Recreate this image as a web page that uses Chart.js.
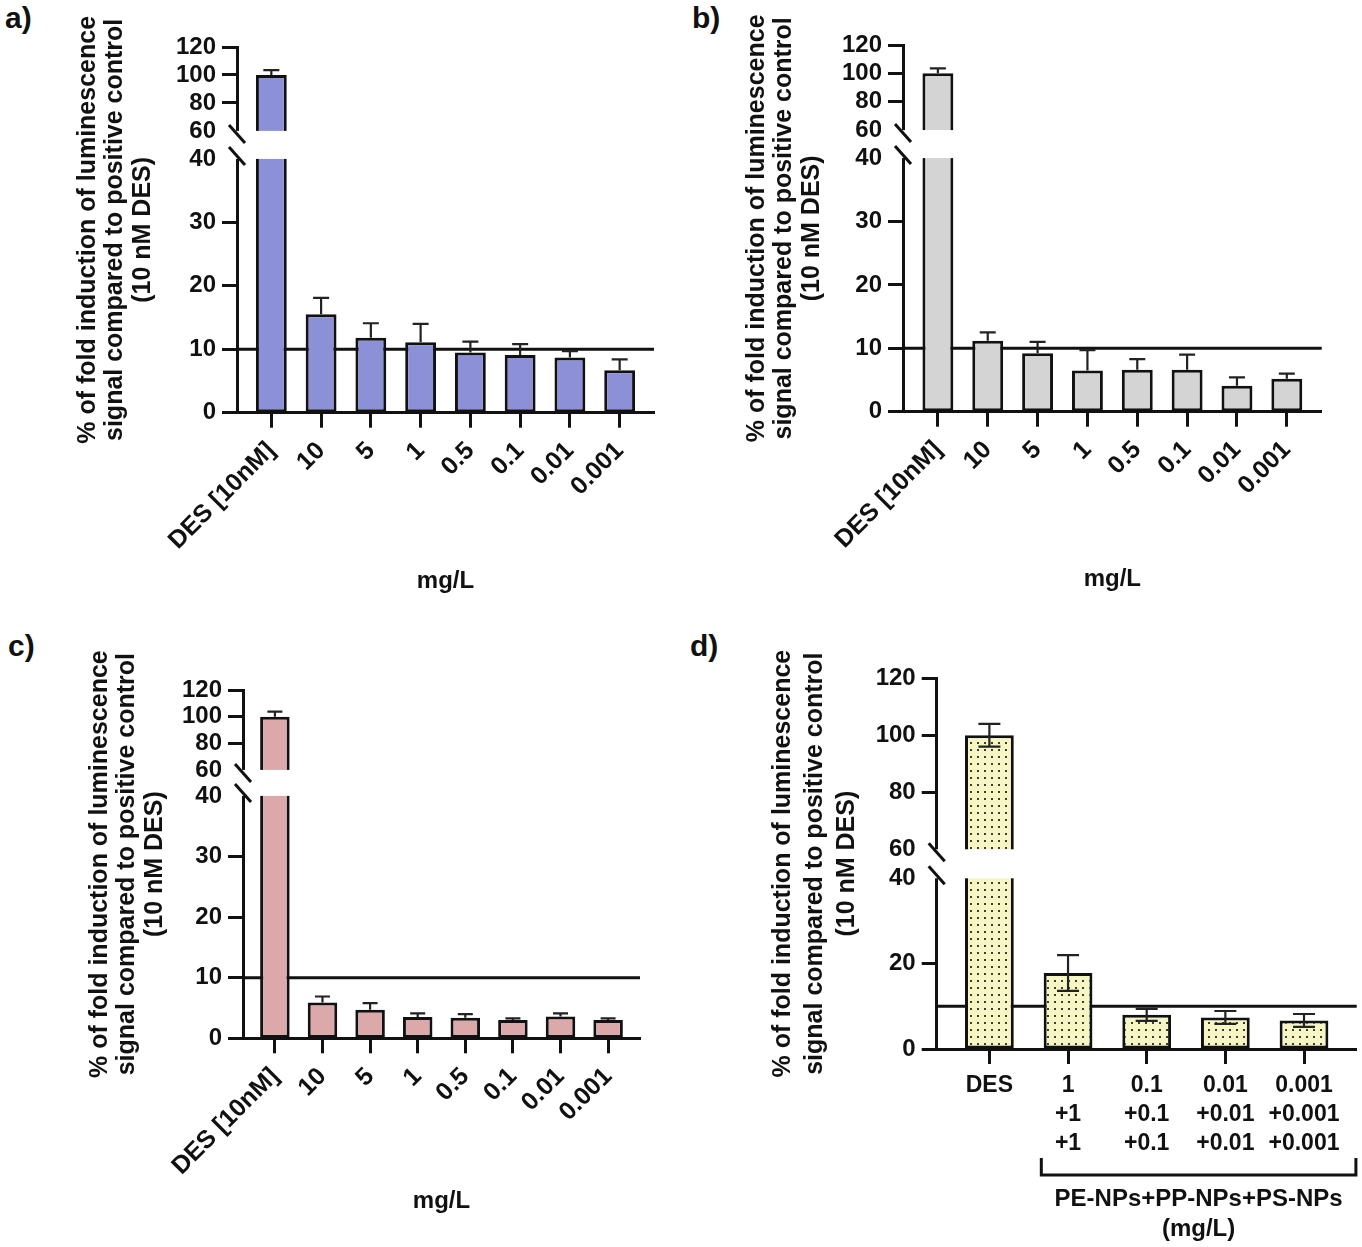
<!DOCTYPE html>
<html>
<head>
<meta charset="utf-8">
<script src="https://cdn.jsdelivr.net/npm/chart.js@4.4.1/dist/chart.umd.min.js"></script>
<style>
  body { margin: 0; background: #fff; }
  #fig { position: relative; width: 1362px; height: 1247px; overflow: hidden; }
  canvas { position: absolute; }
  .tag { position: absolute; font: bold 30px "Liberation Sans", Arial, sans-serif; line-height: 1; color: #111; }
</style>
</head>
<body>
<div id="fig">
  <div class="tag" style="left:5px;top:3px">a)</div>
  <div class="tag" style="left:692px;top:3px">b)</div>
  <div class="tag" style="left:8px;top:631px">c)</div>
  <div class="tag" style="left:690px;top:631px">d)</div>
  <canvas id="chartA" width="680" height="600" style="left:0;top:0"></canvas>
  <canvas id="chartB" width="682" height="600" style="left:680px;top:0"></canvas>
  <canvas id="chartC" width="680" height="627" style="left:0;top:620px"></canvas>
  <canvas id="chartD" width="682" height="627" style="left:680px;top:620px"></canvas>
</div>
<script>
// categorias e valores
const concLabels = ['DES [10nM]', '10', '5', '1', '0.5', '0.1', '0.01', '0.001'];
const mixLabels = [['DES'], ['1', '+1', '+1'], ['0.1', '+0.1', '+0.1'], ['0.01', '+0.01', '+0.01'], ['0.001', '+0.001', '+0.001']];
const brokenTicks = [0, 10, 20, 30, 40, 60, 80, 100, 120];
const brokenTicksD = [0, 20, 40, 60, 80, 100, 120];

const meanA = [100, 15.5, 11.8, 11.1, 9.5, 9.1, 8.7, 6.7];
const sdA = [3.5, 2.6, 2.3, 2.9, 1.7, 1.7, 1.0, 1.7];
const meanB = [100, 11.2, 9.2, 6.5, 6.6, 6.6, 4.1, 5.2];
const sdB = [3.5, 1.3, 1.8, 3.2, 1.7, 2.4, 1.3, 0.8];
const meanC = [100, 5.9, 4.7, 3.5, 3.4, 3.0, 3.6, 3.0];
const sdC = [3.7, 1.0, 1.1, 0.6, 0.6, 0.3, 0.5, 0.3];
const meanD = [100, 17.8, 8.0, 7.4, 6.7];
const sdD = [4.0, 4.2, 1.4, 1.5, 1.5];

const yTitle = ['% of fold induction of luminescence', 'signal compared to positive control', '(10 nM DES)'];
const xTitle = 'mg/L';
const mixTitle = ['PE-NPs+PP-NPs+PS-NPs', '(mg/L)'];

// quebra do eixo y: 0-40 embaixo, 60-120 em cima
const LOW_MAX = 40, HIGH_MIN = 60, HIGH_MAX = 120;
const THRESHOLD = 10;
const INK = '#111';
const FONT = '"Liberation Sans", Arial, sans-serif';

Chart.defaults.font.family = FONT;
Chart.defaults.font.weight = 'bold';
Chart.defaults.color = INK;

function breakScale(lowFrac, gapFrac) {
  const topFrac = 1 - lowFrac - gapFrac;
  return v => v <= LOW_MAX
    ? v / LOW_MAX * lowFrac
    : lowFrac + gapFrac + (v - HIGH_MIN) / (HIGH_MAX - HIGH_MIN) * topFrac;
}

function dotPattern(bg, dot) {
  const c = document.createElement('canvas');
  c.width = 7; c.height = 7;
  const g = c.getContext('2d');
  g.fillStyle = bg;
  g.fillRect(0, 0, 7, 7);
  g.fillStyle = dot;
  g.fillRect(3, 3, 2, 2);
  return g.createPattern(c, 'repeat');
}

// linha de 10%, barras de erro, quebra do eixo e chave do painel d
function extras(p, T) {
  return {
    id: 'extras',
    beforeDatasetsDraw(chart) {
      const { ctx, chartArea: a, scales: { y } } = chart;
      const py = y.getPixelForValue(T(THRESHOLD));
      ctx.save();
      ctx.strokeStyle = INK;
      ctx.lineWidth = 3;
      ctx.beginPath();
      ctx.moveTo(a.left, py);
      ctx.lineTo(a.right, py);
      ctx.stroke();
      ctx.restore();
    },
    afterDatasetsDraw(chart) {
      const { ctx, scales: { y } } = chart;
      ctx.save();
      ctx.strokeStyle = '#222';
      ctx.lineWidth = 2.2;
      chart.getDatasetMeta(0).data.forEach((bar, i) => {
        const v = p.mean[i], e = p.sd[i];
        const top = y.getPixelForValue(T(v + e));
        const bot = p.bothWays ? y.getPixelForValue(T(v - e)) : bar.y;
        ctx.beginPath();
        ctx.moveTo(bar.x, bot);
        ctx.lineTo(bar.x, top);
        ctx.moveTo(bar.x - p.capHalf, top);
        ctx.lineTo(bar.x + p.capHalf, top);
        if (p.bothWays) {
          ctx.moveTo(bar.x - p.capHalf, bot);
          ctx.lineTo(bar.x + p.capHalf, bot);
        }
        ctx.stroke();
      });
      ctx.restore();
    },
    afterDraw(chart) {
      const { ctx, chartArea: a, scales: { x, y } } = chart;
      const y60 = y.getPixelForValue(T(HIGH_MIN));
      const y40 = y.getPixelForValue(T(LOW_MAX));
      ctx.save();
      ctx.fillStyle = '#fff';
      ctx.fillRect(a.left - 4, y60, a.right - a.left + 6, y40 - y60);
      ctx.strokeStyle = INK;
      ctx.lineWidth = 3;
      [y60 + 3, y40 - 3].forEach(yc => {
        ctx.beginPath();
        ctx.moveTo(a.left - 8, yc - 9);
        ctx.lineTo(a.left + 8, yc + 9);
        ctx.stroke();
      });
      if (p.bracket) {
        const x1 = x.getPixelForValue(p.bracket.from);
        const x2 = x.getPixelForValue(p.bracket.to);
        const yb = a.bottom + 126, yt = a.bottom + 109;
        ctx.beginPath();
        ctx.moveTo(x1, yt);
        ctx.lineTo(x1, yb);
        ctx.lineTo(x2, yb);
        ctx.lineTo(x2, yt);
        ctx.stroke();
        ctx.fillStyle = INK;
        ctx.font = 'bold 24px ' + FONT;
        ctx.textAlign = 'center';
        ctx.textBaseline = 'middle';
        mixTitle.forEach((t, i) => ctx.fillText(t, (x1 + x2) / 2, a.bottom + 150 + i * 30));
      }
      ctx.restore();
    }
  };
}

function makeChart(p) {
  const T = breakScale(p.lowFrac, p.gapFrac);
  const n = p.labels.length;
  return new Chart(document.getElementById(p.id), {
    type: 'bar',
    data: {
      datasets: [{
        data: p.mean.map((v, i) => ({ x: i, y: T(v) })),
        backgroundColor: p.fill,
        borderColor: INK,
        borderWidth: 3,
        borderSkipped: false,
        barPercentage: 0.62,
        categoryPercentage: 1
      }]
    },
    options: {
      responsive: false,
      animation: false,
      events: [],
      layout: { padding: { left: 0, top: p.padTop, right: p.padRight, bottom: 0 } },
      plugins: { legend: { display: false }, tooltip: { enabled: false } },
      scales: {
        x: {
          type: 'linear',
          min: -p.edge,
          max: n - 1 + p.edge,
          offset: false,
          afterBuildTicks: s => { s.ticks = p.labels.map((_, i) => ({ value: i })); },
          afterFit: s => { s.height = p.xHeight; },
          border: { display: true, color: INK, width: 3 },
          grid: { offset: false, drawOnChartArea: false, drawTicks: true, tickLength: 15, tickWidth: 3, tickColor: INK },
          ticks: {
            autoSkip: false,
            minRotation: p.rotation,
            maxRotation: p.rotation,
            padding: p.xTickPad,
            font: { size: p.xFont, weight: 'bold', lineHeight: 1.26 },
            color: INK,
            callback: (v, i) => p.labels[i]
          },
          title: {
            display: !p.bracket,
            text: xTitle,
            color: INK,
            font: { size: 24, weight: 'bold', lineHeight: 1.15 },
            padding: { top: 0, bottom: p.xTitlePad }
          }
        },
        y: {
          min: 0,
          max: 1,
          afterBuildTicks: s => { s.ticks = p.ticks.map(v => ({ value: T(v) })); },
          afterFit: s => { s.width = p.yWidth; },
          border: { display: true, color: INK, width: 3 },
          grid: {
            drawOnChartArea: false,
            drawTicks: true,
            tickLength: 15,
            tickWidth: 3,
            tickColor: c => (p.ticks[c.index] === LOW_MAX || p.ticks[c.index] === HIGH_MIN) ? 'rgba(0,0,0,0)' : INK
          },
          ticks: {
            padding: 6,
            color: INK,
            font: { size: 24, weight: 'bold' },
            callback: (v, i) => String(p.ticks[i])
          },
          title: {
            display: true,
            text: yTitle,
            color: INK,
            font: { size: 25, weight: 'bold', lineHeight: p.titleLH },
            padding: { top: p.titlePad, bottom: 0 }
          }
        }
      }
    },
    plugins: [extras(p, T)]
  });
}

const panels = [
  { id: 'chartA', labels: concLabels, mean: meanA, sd: sdA, ticks: brokenTicks, fill: '#8c90d6',
    lowFrac: 0.694, gapFrac: 0.0766, yWidth: 237, xHeight: 187.3, padTop: 47, padRight: 26,
    titlePad: 74, titleLH: 1.1, xTitlePad: 5, rotation: 45, xFont: 25, xTickPad: 8,
    edge: 0.69, capHalf: 8, bothWays: false },
  { id: 'chartB', labels: concLabels, mean: meanB, sd: sdB, ticks: brokenTicks, fill: '#d4d4d4',
    lowFrac: 0.6916, gapFrac: 0.0764, yWidth: 223, xHeight: 188.3, padTop: 45, padRight: 40.3,
    titlePad: 63, titleLH: 1.1, xTitlePad: 7, rotation: 45, xFont: 25, xTickPad: 8,
    edge: 0.7, capHalf: 8, bothWays: false },
  { id: 'chartC', labels: concLabels, mean: meanC, sd: sdC, ticks: brokenTicks, fill: '#dba9a9',
    lowFrac: 0.696, gapFrac: 0.0746, yWidth: 243, xHeight: 208.7, padTop: 70, padRight: 40,
    titlePad: 86, titleLH: 1.1, xTitlePad: 32, rotation: 45, xFont: 25, xTickPad: 8,
    edge: 0.67, capHalf: 7.5, bothWays: false },
  { id: 'chartD', labels: mixLabels, mean: meanD, sd: sdD, ticks: brokenTicksD,
    fill: dotPattern('#f6f6c4', '#3c3c34'),
    lowFrac: 0.4605, gapFrac: 0.0782, yWidth: 256.7, xHeight: 198, padTop: 58.3, padRight: 5.3,
    titlePad: 87, titleLH: 1.28, xTitlePad: 0, rotation: 0, xFont: 23, xTickPad: 7,
    edge: 0.67, capHalf: 11, bothWays: true, bracket: { from: 0.66, to: 4.66 } }
];

panels.forEach(makeChart);
</script>
</body>
</html>
